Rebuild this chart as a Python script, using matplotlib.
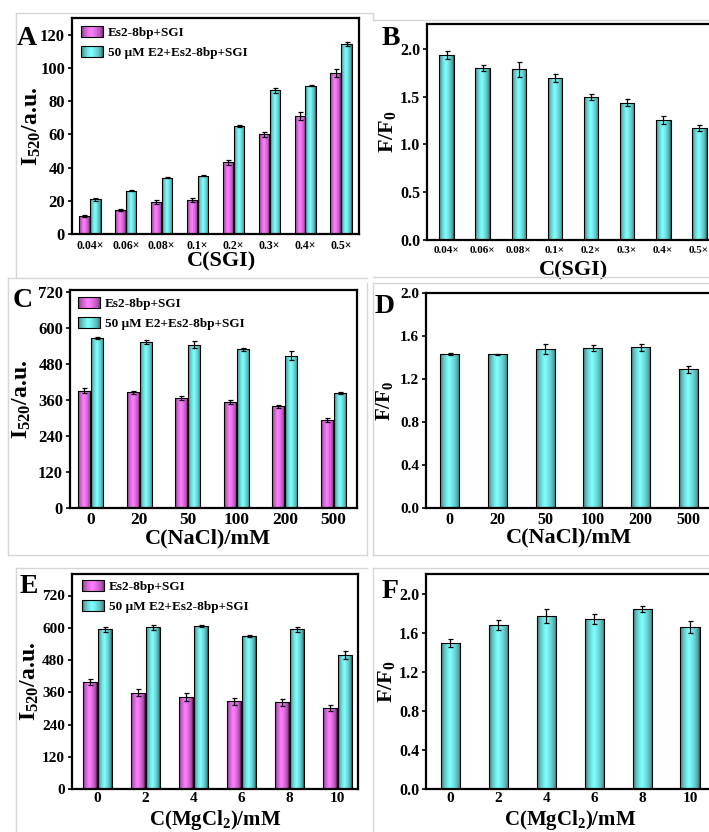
import numpy as np
import matplotlib
matplotlib.use('Agg')
import matplotlib.pyplot as plt
from matplotlib.patches import Rectangle
from matplotlib.legend_handler import HandlerBase
from matplotlib.lines import Line2D

plt.rcParams['font.family'] = ['Liberation Serif', 'DejaVu Serif']
plt.rcParams['font.weight'] = 'bold'
plt.rcParams['mathtext.fontset'] = 'custom'
plt.rcParams['mathtext.rm'] = 'Liberation Serif:bold'
plt.rcParams['mathtext.it'] = 'Liberation Serif:italic:bold'
plt.rcParams['mathtext.bf'] = 'Liberation Serif:bold'
plt.rcParams['axes.linewidth'] = 1.6

# ---------------- data ----------------
sgi_labels = ['0.04×', '0.06×', '0.08×', '0.1×', '0.2×', '0.3×', '0.4×', '0.5×']
a_ctrl = [10.9, 14.5, 19.1, 20.5, 43.2, 60.1, 71.0, 96.9]
a_ctrl_err = [0.5, 0.5, 1.2, 1.0, 1.5, 1.5, 2.5, 2.5]
a_e2 = [20.9, 25.9, 34.0, 35.0, 64.9, 86.6, 89.2, 114.4]
a_e2_err = [0.8, 0.3, 0.3, 0.3, 0.5, 1.5, 0.3, 1.2]
b_ratio = [1.934, 1.797, 1.784, 1.696, 1.497, 1.438, 1.257, 1.173]
b_err = [0.04, 0.03, 0.08, 0.04, 0.03, 0.04, 0.04, 0.03]

nacl_labels = ['0', '20', '50', '100', '200', '500']
c_ctrl = [392, 386, 366, 353, 339, 295]
c_ctrl_err = [8, 4, 7, 6, 4, 7]
c_e2 = [567, 554, 545, 530, 508, 383]
c_e2_err = [4, 6, 12, 5, 15, 3]
d_ratio = [1.435, 1.429, 1.479, 1.488, 1.494, 1.289]
d_err = [0.01, 0.005, 0.05, 0.03, 0.03, 0.03]

mg_labels = ['0', '2', '4', '6', '8', '10']
e_ctrl = [398, 359, 342, 326, 322, 301]
e_ctrl_err = [10, 12, 14, 12, 12, 10]
e_e2 = [594, 602, 607, 570, 594, 499]
e_e2_err = [8, 10, 5, 3, 10, 15]
f_ratio = [1.496, 1.676, 1.768, 1.741, 1.840, 1.656]
f_err = [0.04, 0.05, 0.07, 0.05, 0.03, 0.06]

legend_labels = ['Es2-8bp+SGI', '50 μM E2+Es2-8bp+SGI']

# ---------------- styling helpers ----------------
W, H = 709, 832
fig = plt.figure(figsize=(W / 100, H / 100), dpi=100)


def px_axes(left, top, right, bottom):
    return fig.add_axes([left / W, 1 - bottom / H, (right - left) / W, (bottom - top) / H])


def grad_colors(bright, dark, n=48, peak=0.45):
    bright = np.array(bright, float)
    dark = np.array(dark, float)
    t = np.linspace(0, 1, n)
    s = np.where(t < peak, t / peak, (1 - t) / (1 - peak))
    s = np.clip(s, 0, 1) ** 0.4
    return dark[None, :] * (1 - s[:, None]) + bright[None, :] * s[:, None]


CYAN = grad_colors((0.50, 1.0, 1.0), (0.10, 0.25, 0.25))
MAG = grad_colors((1.0, 0.50, 1.0), (0.28, 0.08, 0.28))


def grad_bars(ax, x, vals, err, width, cols, capsize=1.8):
    bars = ax.bar(x, vals, width, facecolor='none', edgecolor='black', linewidth=0.8, zorder=2)
    img = cols[None, :, :]
    for p in bars.patches:
        x0, w, h = p.get_x(), p.get_width(), p.get_height()
        im = ax.imshow(img, extent=[x0, x0 + w, 0, h], aspect='auto',
                       interpolation='bilinear', zorder=1.5)
        im.set_clip_path(p)
    ax.errorbar(x, vals, yerr=err, fmt='none', ecolor='black', elinewidth=0.9,
                capsize=capsize, capthick=0.9, zorder=3)
    return bars


class GradHandler(HandlerBase):
    def __init__(self, cols):
        super().__init__()
        self.cols = cols

    def create_artists(self, legend, orig_handle, xdescent, ydescent, width, height, fontsize, trans):
        n = len(self.cols)
        arts = []
        for i, c in enumerate(self.cols):
            arts.append(Rectangle((-xdescent + width * i / n, -ydescent), width / n * 1.08, height,
                                  facecolor=c, edgecolor='none', transform=trans))
        arts.append(Rectangle((-xdescent, -ydescent), width, height, facecolor='none',
                              edgecolor='black', linewidth=0.8, transform=trans))
        return arts


def add_legend(ax, anchor):
    h1 = Rectangle((0, 0), 1, 1)
    h2 = Rectangle((0, 0), 1, 1)
    ax.legend([h1, h2], legend_labels, loc='upper left', bbox_to_anchor=anchor,
              frameon=False, borderpad=0, borderaxespad=0, handlelength=1.7,
              handleheight=0.9, handletextpad=0.35, labelspacing=0.5,
              prop={'family': 'Liberation Serif', 'weight': 'bold', 'size': 9.5},
              handler_map={h1: GradHandler(MAG), h2: GradHandler(CYAN)})


def style(ax, xlabels, xlim, ylim, yticks, yfmt, xts, yts, xlabel, ylabel, xl_pos, yl_x,
          xpad=4, xlsize=16):
    ax.set_xlim(*xlim)
    ax.set_ylim(*ylim)
    ax.set_xticks(np.arange(len(xlabels)))
    ax.set_xticklabels(xlabels, fontsize=xts, fontweight='bold')
    ax.set_yticks(yticks)
    ax.set_yticklabels([yfmt.format(v) for v in yticks], fontsize=yts, fontweight='bold')
    ax.tick_params(axis='y', direction='out', length=3, width=1.2, pad=2)
    ax.tick_params(axis='x', direction='out', length=0, width=1.2, pad=xpad)
    ax.set_xlabel(xlabel, fontsize=xlsize, fontweight='bold')
    ax.set_ylabel(ylabel, fontsize=17, fontweight='bold')
    ax.xaxis.set_label_coords(xl_pos[0], xl_pos[1])
    ax.yaxis.set_label_coords(yl_x, 0.5)


def letter(s, x, y):
    fig.text(x / W, 1 - y / H, s, fontsize=20, fontweight='bold', ha='left', va='baseline')


# ---------------- screenshot borders ----------------
gray = '#d6d6d6'
def gline(xs, ys):
    fig.add_artist(Line2D([x / W for x in xs], [1 - y / H for y in ys], color=gray, lw=1.0))

gline([16, 373], [13, 13]); gline([16, 16], [13, 277]); gline([373, 373], [13, 20])
gline([373, 709], [20, 20]); gline([373, 709], [277, 277])
gline([8, 367], [278, 278]); gline([8, 8], [278, 555]); gline([8, 367], [555, 555]); gline([367, 367], [283, 555])
gline([373, 709], [283, 283]); gline([373, 373], [283, 555]); gline([373, 709], [555, 555])
gline([16, 367], [568, 568]); gline([16, 16], [568, 832])
gline([373, 709], [568, 568]); gline([373, 373], [568, 832])

# ---------------- panel A ----------------
axA = px_axes(72, 18, 359, 234)
xs = np.arange(len(sgi_labels))
grad_bars(axA, xs - 0.152, a_ctrl, a_ctrl_err, 0.29, MAG)
grad_bars(axA, xs + 0.152, a_e2, a_e2_err, 0.29, CYAN)
style(axA, sgi_labels, (-0.5, 7.5), (0, 130), np.arange(0, 121, 20), '{:.0f}', 8.5, 12,
      'C(SGI)', r'I$_{\rm 520}$/a.u.', (0.52, -0.08), -0.10)
add_legend(axA, (0.031, 0.963))

# ---------------- panel B ----------------
axB = px_axes(427, 24, 719, 240)
xs = np.arange(len(sgi_labels))
grad_bars(axB, xs, b_ratio, b_err, 0.41, CYAN)
style(axB, sgi_labels, (-0.55, 7.55), (0, 2.26), np.arange(0, 2.01, 0.5), '{:.1f}', 8, 11.5,
      'C(SGI)', r'F/F$_{\rm 0}$', (0.5, -0.095), -0.10)
axB.yaxis.label.set_fontsize(16)

# ---------------- panel C ----------------
axC = px_axes(70, 290, 357, 508)
xs = np.arange(len(nacl_labels))
grad_bars(axC, xs - 0.135, c_ctrl, c_ctrl_err, 0.25, MAG)
grad_bars(axC, xs + 0.135, c_e2, c_e2_err, 0.25, CYAN)
style(axC, nacl_labels, (-0.43, 5.49), (0, 728), np.arange(0, 721, 120), '{:.0f}', 12.5, 12,
      'C(NaCl)/mM', r'I$_{\rm 520}$/a.u.', (0.48, -0.092), -0.128, xpad=3)
add_legend(axC, (0.028, 0.968))

# ---------------- panel D ----------------
axD = px_axes(426, 293, 712, 508)
xs = np.arange(len(nacl_labels))
grad_bars(axD, xs, d_ratio, d_err, 0.4, CYAN)
style(axD, nacl_labels, (-0.5, 5.5), (0, 2.0), np.arange(0, 2.01, 0.4), '{:.1f}', 11.5, 11,
      'C(NaCl)/mM', r'F/F$_{\rm 0}$', (0.5, -0.092), -0.11, xpad=3)
axD.yaxis.label.set_fontsize(15)

# ---------------- panel E ----------------
axE = px_axes(72, 574, 358, 789)
xs = np.arange(len(mg_labels))
grad_bars(axE, xs - 0.155, e_ctrl, e_ctrl_err, 0.29, MAG)
grad_bars(axE, xs + 0.155, e_e2, e_e2_err, 0.29, CYAN)
style(axE, mg_labels, (-0.53, 5.42), (0, 800), np.arange(0, 721, 120), '{:.0f}', 11, 11,
      r'C(MgCl$_{\rm 2}$)/mM', r'I$_{\rm 520}$/a.u.', (0.5, -0.088), -0.11, xpad=2, xlsize=15)
add_legend(axE, (0.035, 0.972))

# ---------------- panel F ----------------
axF = px_axes(426, 574, 714, 789)
xs = np.arange(len(mg_labels))
grad_bars(axF, xs, f_ratio, f_err, 0.4, CYAN)
style(axF, mg_labels, (-0.51, 5.5), (0, 2.2), np.arange(0, 2.01, 0.4), '{:.1f}', 11, 11.5,
      r'C(MgCl$_{\rm 2}$)/mM', r'F/F$_{\rm 0}$', (0.5, -0.088), -0.10, xpad=2, xlsize=15)
axF.yaxis.label.set_fontsize(16)

letter('A', 17, 45)
letter('B', 382, 45)
letter('C', 13, 307)
letter('D', 375, 313)
letter('E', 20, 593)
letter('F', 382, 598)

fig.savefig('out.png', dpi=100)
